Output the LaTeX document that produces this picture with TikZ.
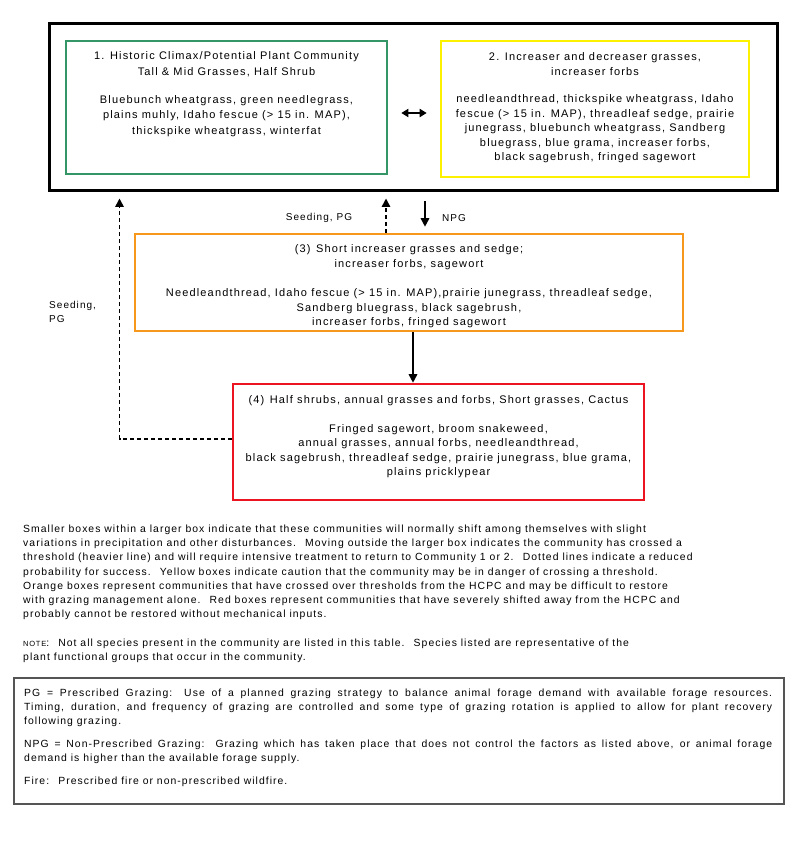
\documentclass[tikz,border=0pt]{standalone}
\usepackage{fontspec}
\setmainfont{Liberation Sans}
\newfontfamily\boxfont[LetterSpace=10.5]{Liberation Sans}
\newfontfamily\notefont[LetterSpace=10]{Liberation Sans}
\usepackage{tikz}
\usetikzlibrary{arrows.meta,positioning}
\definecolor{hcpcgreen}{RGB}{52,150,102}
\definecolor{cautionyellow}{RGB}{252,242,0}
\definecolor{shortorange}{RGB}{247,152,28}
\definecolor{shrubred}{RGB}{236,20,32}
\definecolor{framegray}{RGB}{85,85,85}

\begin{document}
\begin{tikzpicture}[
        x=1pt, y=-1pt,
        >={Triangle[length=8.5pt,width=8.5pt]},
        frame/.style={draw, line width=2.6pt, inner sep=0pt},
        boxtext/.style={inner sep=0pt, align=center, font=\boxfont\fontsize{11}{14.5}\selectfont},
        label text/.style={inner sep=0pt, font=\boxfont\fontsize{10}{14}\selectfont},
        note/.style={inner sep=0pt, align=left, font=\notefont\fontsize{10.4}{14.1}\selectfont},
        trans/.style={->, line width=1.6pt},
        seed/.style={->, line width=1.6pt, dash pattern=on 4pt off 3pt}
    ]
    \useasboundingbox (0,0) rectangle (800,850);

    % Boxes
    \node[frame, line width=3pt, minimum width=728pt, minimum height=167pt] (outer) at (413,107.5) {};
    \node[frame, draw=hcpcgreen, minimum width=321pt, minimum height=133pt] (hcpc) at (226.5,107.5) {};
    \node[frame, draw=cautionyellow, minimum width=308pt, minimum height=136pt] (increaser) at (595,109) {};
    \node[frame, draw=shortorange, minimum width=548pt, minimum height=97pt] (short) at (409,282.5) {};
    \node[frame, draw=shrubred, minimum width=411pt, minimum height=116pt] (shrub) at (438.5,442) {};

    % Box texts
    \node[boxtext, font=\boxfont\fontsize{11}{15.5}\selectfont, below=12pt of hcpc.north] (hcpc text) {1. Historic Climax/Potential Plant Community\\
        Tall \& Mid Grasses, Half Shrub\\[12.5pt]
        Bluebunch wheatgrass, green needlegrass,\\
        plains muhly, Idaho fescue (> 15 in. MAP),\\
        thickspike wheatgrass, winterfat};
    \node[boxtext, below=13pt of increaser.north] (increaser text) {2.\enspace Increaser and decreaser grasses,\\
        increaser forbs\\[13pt]
        needleandthread, thickspike wheatgrass, Idaho\\
        fescue (> 15 in. MAP), threadleaf sedge, prairie\\
        junegrass, bluebunch wheatgrass, Sandberg\\
        bluegrass, blue grama, increaser forbs,\\
        black sagebrush, fringed sagewort};
    \node[boxtext, below=12pt of short.north] (short text) {(3)\enspace Short increaser grasses and sedge;\\
        increaser forbs, sagewort\\[15pt]
        Needleandthread, Idaho fescue (> 15 in. MAP),prairie junegrass, threadleaf sedge,\\
        Sandberg bluegrass, black sagebrush,\\
        increaser forbs, fringed sagewort};
    \node[boxtext, below=13pt of shrub.north] (shrub text) {(4)\enspace Half shrubs, annual grasses and forbs, Short grasses, Cactus\\[14pt]
        Fringed sagewort, broom snakeweed,\\
        annual grasses, annual forbs, needleandthread,\\
        black sagebrush, threadleaf sedge, prairie junegrass, blue grama,\\
        plains pricklypear};

    % Transitions
    \coordinate (npg x) at (425,0);
    \coordinate (seed x) at (386,0);
    \coordinate (decline x) at (413,0);
    \draw[<->, line width=1.8pt, >={Triangle[length=7pt,width=8pt]}, shorten >=13pt]
        ([xshift=13pt,yshift=-5.5pt]hcpc.east) -- ([yshift=-5.5pt]hcpc.east -| increaser.west);
    \draw[trans, shorten <=9pt, shorten >=6pt] (outer.south -| npg x) -- (short.north -| npg x);
    \draw[seed, shorten >=6pt] (short.north -| seed x) -- (outer.south -| seed x);
    \draw[trans] (short.south -| decline x) -- (shrub.north -| decline x);
    \draw[seed, shorten >=6pt] ([yshift=3pt]shrub.west) -| ([xshift=72pt]outer.south west);

    % Labels
    \node[label text] (seed label) at (319,218) {Seeding, PG};
    \node[label text, anchor=west] (npg label) at (442,218) {NPG};
    \node[label text, anchor=north west, align=left] (back label) at (49,301) {Seeding,\\PG};

    % Notes
    \node[note, anchor=north west] (legend) at (23,525) {Smaller boxes within a larger box indicate that these communities will normally shift among themselves with slight\\
        variations in precipitation and other disturbances.\enspace\ Moving outside the larger box indicates the community has crossed a\\
        threshold (heavier line) and will require intensive treatment to return to Community 1 or 2.\enspace\ Dotted lines indicate a reduced\\
        probability for success.\enspace\ Yellow boxes indicate caution that the community may be in danger of crossing a threshold.\\
        Orange boxes represent communities that have crossed over thresholds from the HCPC and may be difficult to restore\\
        with grazing management alone.\enspace\ Red boxes represent communities that have severely shifted away from the HCPC and\\
        probably cannot be restored without mechanical inputs.};
    \node[note, anchor=north west] (species note) at (23,639) {{\fontsize{7.5}{9}\selectfont NOTE}:\enspace\ Not all species present in the community are listed in this table.\enspace\ Species listed are representative of the\\
        plant functional groups that occur in the community.};

    % Glossary
    \node[draw=framegray, line width=1.3pt, minimum width=770pt, minimum height=126pt] (glossary) at (399,741) {};
    \node[note, anchor=north west, font=\notefont\fontsize{10.4}{14}\selectfont] (glossary text) at (24,689) {\makebox[748pt][s]{PG = Prescribed Grazing:\enspace\ Use of a planned grazing strategy to balance animal forage demand with available forage resources.}\\
        \makebox[748pt][s]{Timing, duration, and frequency of grazing are controlled and some type of grazing rotation is applied to allow for plant recovery}\\
        following grazing.\\[9pt]
        \makebox[748pt][s]{NPG = Non-Prescribed Grazing:\enspace\ Grazing which has taken place that does not control the factors as listed above, or animal forage}\\
        demand is higher than the available forage supply.\\[9pt]
        Fire:\enspace\ Prescribed fire or non-prescribed wildfire.};

\end{tikzpicture}
\end{document}
